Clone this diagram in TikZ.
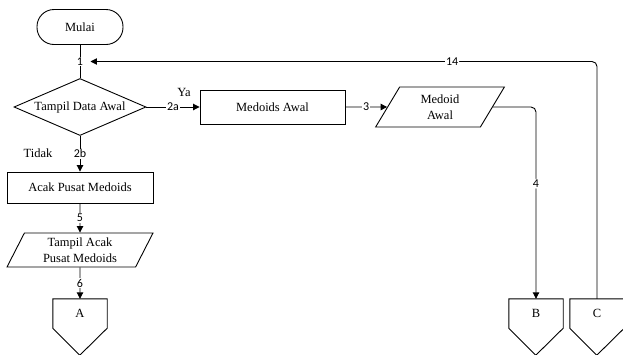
\documentclass[tikz,border=0pt]{standalone}
\usepackage{fontspec}
\setmainfont{Liberation Serif}
\newfontfamily\lblfont{Carlito}
\usetikzlibrary{shapes.geometric,arrows.meta}

\begin{document}
\begin{tikzpicture}[x=1pt,y=-1pt,
	every node/.style={font=\fontsize{12.5}{16}\selectfont},
	line/.style={line width=0.9pt},
	arr/.style={line width=0.9pt,-{Triangle[length=6.5pt,width=6.5pt]}},
	lbl/.style={fill=white,inner sep=1pt,font=\lblfont\fontsize{12}{14}\selectfont},
	proses/.style={draw,line width=0.9pt},
	data/.style={draw,line width=0.9pt,trapezium,trapezium left angle=65,trapezium right angle=115,trapezium stretches=true,inner sep=0pt,align=center},
	konektor/.style={minimum width=54pt,minimum height=29pt,inner sep=0pt}]
	\useasboundingbox (0,0) rectangle (623,354);

	\node[proses,rounded corners=17pt,minimum width=86pt,minimum height=35pt] (mulai) at (80,27) {Mulai};
	\node[proses,diamond,aspect=2.3,inner sep=0pt,minimum width=132pt,minimum height=57pt] (tampil) at (80,107) {Tampil Data Awal};
	\node[proses,minimum width=145pt,minimum height=34pt] (medoids) at (272.5,107) {Medoids Awal};
	\node[data,minimum width=129pt,minimum height=40pt] (medoid) at (440,107) {Medoid\\Awal};
	\node[proses,minimum width=146pt,minimum height=31pt] (acak) at (80,187.5) {Acak Pusat Medoids};
	\node[data,minimum width=146pt,minimum height=34pt] (tampilacak) at (80,250) {Tampil Acak\\Pusat Medoids};
	\node[konektor] (A) at (80,313.5) {A};
	\node[konektor] (B) at (536,313.5) {B};
	\node[konektor] (C) at (597,313.5) {C};
	\foreach \n in {A,B,C}
		\draw[line] (\n.north west) -- (\n.south west) -- ++(27,27) -- (\n.south east) -- (\n.north east) -- cycle;

	\node (ya) at (184,92) {Ya};
	\node (tidak) at (38,153) {Tidak};

	\draw[line] (mulai) -- node[lbl,inner xsep=7pt] (n1) {1} (tampil);
	\draw[arr] (tampil) -- node[lbl] {2a} (medoids);
	\draw[arr] (tampil) -- node[lbl] {2b} (acak);
	\draw[arr] (medoids) -- node[lbl] {3} (medoid);
	\draw[arr,rounded corners=5pt] (medoid.east) -| node[lbl,pos=0.7] {4} (B.north);
	\draw[arr] (acak) -- node[lbl] {5} (tampilacak);
	\draw[arr] (tampilacak) -- node[lbl] {6} (A);
	\draw[arr,rounded corners=5pt] (C.north) |- node[lbl,pos=0.643] {14} (n1.east);
\end{tikzpicture}
\end{document}
